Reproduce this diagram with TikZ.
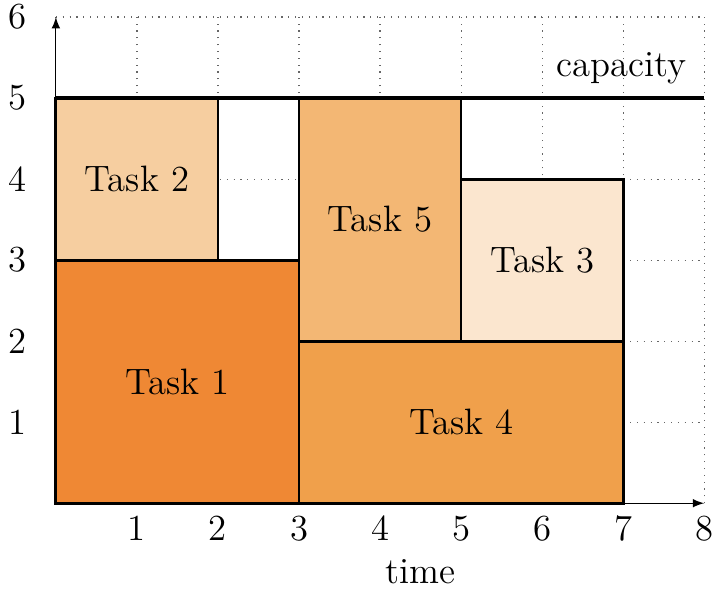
\documentclass[tikz,border=0pt]{standalone}
\usepackage{xcolor}
\definecolor{taskA}{HTML}{EF8834}
\definecolor{taskB}{HTML}{F6CEA0}
\definecolor{taskC}{HTML}{FBE6CF}
\definecolor{taskD}{HTML}{F0A04B}
\definecolor{taskE}{HTML}{F3B774}
\begin{document}
\begin{tikzpicture}[>=latex,font=\fontsize{12.9}{15}\selectfont,
  task/.style={draw,line width=1pt,inner sep=0pt,outer sep=0pt},
  tick/.style={inner sep=1pt},
  gridline/.style={dotted,gray!80!black}]
  \useasboundingbox (-0.69,-1.05) rectangle (8.22,6.21);
  \draw[gridline] (0,0) grid (8,6);
  \coordinate (O) at (0,0);
  \coordinate (xend) at (8,0);
  \coordinate (yend) at (0,6);
  \draw[->] (O) -- (xend);
  \draw[->] (O) -- (yend);
  \foreach \i in {1,...,8} \node[tick] (x\i) at (\i,-0.31) {\i};
  \foreach \j in {1,...,6} \node[tick] (y\j) at (-0.48,\j) {\j};
  \node (tl) at (4.5,-0.84) {time};
  \node[task,fill=taskA,minimum width=3cm,minimum height=3cm] (t1) at (1.5,1.5) {Task 1};
  \node[task,fill=taskB,minimum width=2cm,minimum height=2cm] (t2) at (1,4) {Task 2};
  \node[task,fill=taskE,minimum width=2cm,minimum height=3cm] (t5) at (4,3.5) {Task 5};
  \node[task,fill=taskC,minimum width=2cm,minimum height=2cm] (t3) at (6,3) {Task 3};
  \node[task,fill=taskD,minimum width=4cm,minimum height=2cm] (t4) at (5,1) {Task 4};
  \coordinate (cap0) at (0,5);
  \coordinate (cap1) at (8,5);
  \draw[line width=1.4pt] (cap0) -- (cap1);
  \node[anchor=base east,inner sep=0pt] (cl) at (7.79,5.27) {capacity};
\end{tikzpicture}
\end{document}
